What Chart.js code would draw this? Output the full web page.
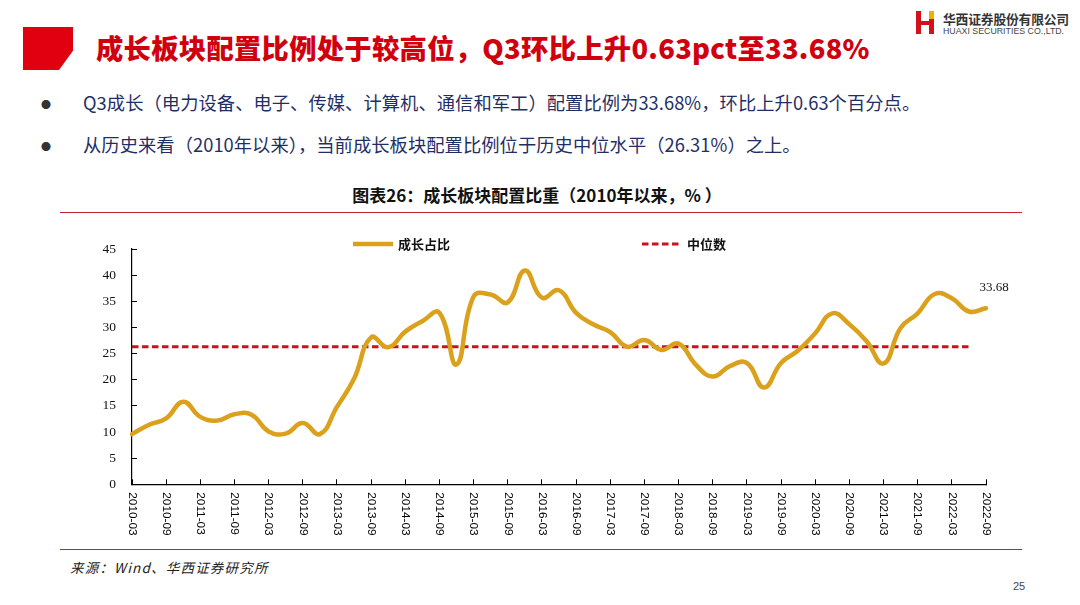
<!DOCTYPE html>
<html>
<head>
<meta charset="utf-8">
<script src="https://cdn.jsdelivr.net/npm/chart.js@4.4.1/dist/chart.umd.min.js"></script>
<style>
  html, body { margin:0; padding:0; background:#fff; }
  body { width:1080px; height:605px; position:relative; overflow:hidden; font-family:"Noto Sans CJK SC", "Noto Sans", sans-serif; }
  .corner { position:absolute; left:23px; top:27px; width:50px; height:43px; background:#e0000f;
            clip-path: polygon(0 0, 100% 0, 100% 55%, 72% 100%, 0 100%); }
  .title { position:absolute; left:96px; top:28px; font-size:27.3px; font-weight:900; color:#d0000e; white-space:nowrap; letter-spacing:0.3px; line-height:38px; }
  .logoH { position:absolute; left:916px; top:11px; width:19px; height:23px; }
  .logoH .b1 { position:absolute; left:0; top:0; width:5px; height:23px; background:#d4101c; }
  .logoH .b2 { position:absolute; left:13px; top:0; width:5px; height:23px; background:#d4101c; }
  .logoH .b3 { position:absolute; left:4px; top:10px; width:10px; height:4px; background:#d4101c; }
  .logoH .b4 { position:absolute; left:13px; top:0; width:5px; height:8px; background:#f0b000; }
  .logo1 { position:absolute; left:943px; top:9px; font-size:12.8px; font-weight:700; color:#333; white-space:nowrap; font-family:"Noto Sans CJK SC"; letter-spacing:-0.2px; }
  .logo2 { position:absolute; left:943px; top:26px; font-size:8.8px; color:#444; white-space:nowrap; font-family:"Liberation Sans Narrow","Liberation Sans",sans-serif; }
  .bullet { position:absolute; left:41px; font-size:10px; color:#333; }
  .btext { position:absolute; left:83px; font-size:18.3px; color:#1f2f66; white-space:nowrap; letter-spacing:0.05px; }
  .ctitle { position:absolute; left:0; width:1074px; text-align:center; top:182px; font-size:17px; font-weight:700; color:#111; white-space:nowrap; }
  .rule { position:absolute; left:60px; width:962px; height:1.5px; background:#c8202a; }
  .source { position:absolute; left:70px; top:557px; font-size:13.5px; font-style:italic; color:#222; white-space:nowrap; letter-spacing:1.2px; }
  .page { position:absolute; left:1013px; top:580px; font-size:11px; color:#444; font-family:"Liberation Sans",sans-serif; }
  #wrap { position:absolute; left:60px; top:215px; width:960px; height:330px; }
</style>
</head>
<body>
<div class="corner"></div>
<div class="title">成长板块配置比例处于较高位，Q3环比上升0.63pct至33.68%</div>
<div class="logoH"><div class="b1"></div><div class="b2"></div><div class="b3"></div><div class="b4"></div></div>
<div class="logo1">华西证券股份有限公司</div>
<div class="logo2">HUAXI SECURITIES CO.,LTD.</div>
<div class="bullet" style="top:97px">●</div>
<div class="btext" style="top:89px">Q3成长（电力设备、电子、传媒、计算机、通信和军工）配置比例为33.68%，环比上升0.63个百分点。</div>
<div class="bullet" style="top:139px">●</div>
<div class="btext" style="top:131px">从历史来看（2010年以来），当前成长板块配置比例位于历史中位水平（26.31%）之上。</div>
<div class="ctitle">图表26：成长板块配置比重（2010年以来，%&nbsp;）</div>
<div class="rule" style="top:211.5px"></div>
<div id="wrap"><canvas id="c"></canvas></div>
<div class="rule" style="top:548.5px"></div>
<div class="source">来源：Wind、华西证券研究所</div>
<div class="page">25</div>
<script>
const categories = [
  "2010-03","2010-06","2010-09","2010-12",
  "2011-03","2011-06","2011-09","2011-12",
  "2012-03","2012-06","2012-09","2012-12",
  "2013-03","2013-06","2013-09","2013-12",
  "2014-03","2014-06","2014-09","2014-12",
  "2015-03","2015-06","2015-09","2015-12",
  "2016-03","2016-06","2016-09","2016-12",
  "2017-03","2017-06","2017-09","2017-12",
  "2018-03","2018-06","2018-09","2018-12",
  "2019-03","2019-06","2019-09","2019-12",
  "2020-03","2020-06","2020-09","2020-12",
  "2021-03","2021-06","2021-09","2021-12",
  "2022-03","2022-06","2022-09"
];
const growthShare = [
  9.6, 11.4, 12.6, 15.8,
  12.9, 12.2, 13.4, 13.3,
  10.1, 9.7, 11.7, 9.6,
  14.8, 20.2, 28.1, 26.2,
  29.2, 31.2, 32.8, 22.9,
  35.9, 36.3, 34.8, 40.9,
  35.7, 37.1, 32.8, 30.6,
  29.1, 26.3, 27.6, 25.7,
  26.9, 22.9, 20.6, 22.6,
  23.2, 18.5, 23.2, 25.6,
  28.9, 32.7, 30.6, 27.4,
  23.1, 29.9, 32.7, 36.4,
  35.6, 33.05, 33.68
];
const medianValue = 26.31;
const medianEndLabel = "2022-06";
const yTicks = { min: 0, max: 45, step: 5 };
const seriesNames = ["成长占比", "中位数"];

const medianIdx = categories.indexOf(medianEndLabel);
const medianLine = categories.map((c, i) => (i <= medianIdx ? medianValue : null));

const GOLD = "#DBA11C";
const RED = "#CC1020";

const customPlugin = {
  id: "custom",
  afterDraw(chart) {
    const ctx = chart.ctx;
    const area = chart.chartArea;
    const xs = chart.scales.x;
    ctx.save();
    ctx.fillStyle = "#000";
    ctx.font = "11.8px 'Liberation Sans', Arial, sans-serif";
    ctx.textAlign = "left";
    ctx.textBaseline = "middle";
    categories.forEach((lab, i) => {
      if (i % 2 !== 0) return;
      const x = xs.getPixelForValue(i);
      ctx.save();
      ctx.translate(x, area.bottom + 8);
      ctx.rotate(Math.PI / 2);
      ctx.fillText(lab, 0, 0);
      ctx.restore();
    });
    ctx.restore();
    const meta = chart.getDatasetMeta(0);
    const last = meta.data[meta.data.length - 1];
    ctx.save();
    ctx.fillStyle = "#111";
    ctx.font = "13px 'Liberation Serif', 'Times New Roman', serif";
    ctx.textAlign = "center";
    ctx.textBaseline = "middle";
    ctx.fillText(growthShare[growthShare.length - 1].toFixed(2), last.x + 8, last.y - 21);
    ctx.restore();
    const items = [
      { ds: chart.data.datasets[0], x: area.left + 221 },
      { ds: chart.data.datasets[1], x: area.left + 510 }
    ];
    const ly = area.top - 5;
    items.forEach(it => {
      ctx.save();
      ctx.strokeStyle = it.ds.borderColor;
      ctx.lineWidth = it.ds.borderWidth;
      ctx.setLineDash(it.ds.borderDash || []);
      ctx.lineCap = "butt";
      ctx.beginPath();
      ctx.moveTo(it.x, ly);
      ctx.lineTo(it.x + 40, ly);
      ctx.stroke();
      ctx.setLineDash([]);
      ctx.fillStyle = "#111";
      ctx.font = "bold 13px 'Noto Sans CJK SC', sans-serif";
      ctx.textAlign = "left";
      ctx.textBaseline = "middle";
      ctx.fillText(it.ds.label, it.x + 45, ly);
      ctx.restore();
    });
  }
};

new Chart(document.getElementById("c"), {
  type: "line",
  data: {
    labels: categories,
    datasets: [
      {
        label: seriesNames[0],
        data: growthShare,
        borderColor: GOLD,
        backgroundColor: GOLD,
        borderWidth: 4.5,
        pointRadius: 0,
        pointHoverRadius: 0,
        tension: 0.45,
        borderCapStyle: "round",
        borderJoinStyle: "round",
        fill: false,
        order: 1
      },
      {
        label: seriesNames[1],
        data: medianLine,
        borderColor: RED,
        backgroundColor: RED,
        borderWidth: 2.8,
        borderDash: [6.5, 3.5],
        pointRadius: 0,
        pointHoverRadius: 0,
        tension: 0,
        fill: false,
        spanGaps: false,
        order: 2
      }
    ]
  },
  options: {
    responsive: true,
    maintainAspectRatio: false,
    animation: false,
    events: [],
    layout: { padding: { left: 0, right: 34, top: 34, bottom: 0 } },
    plugins: {
      legend: { display: false },
      tooltip: { enabled: false },
      title: { display: false }
    },
    scales: {
      x: {
        type: "category",
        offset: false,
        grid: {
          drawOnChartArea: false,
          drawTicks: true,
          tickLength: -5,
          tickColor: (c) => (c.index % 2 === 0 ? "#000" : "rgba(0,0,0,0)"),
          lineWidth: 1
        },
        border: { display: true, color: "#000", width: 1.2 },
        ticks: { display: false, autoSkip: false },
        afterFit(scale) { scale.height = 60.7; }
      },
      y: {
        min: yTicks.min,
        max: yTicks.max,
        grid: {
          drawOnChartArea: false,
          drawTicks: true,
          tickLength: -5,
          tickColor: "#000",
          lineWidth: 1
        },
        border: { display: true, color: "#000", width: 1.2 },
        ticks: {
          stepSize: yTicks.step,
          padding: 21,
          color: "#111",
          font: { family: "'Liberation Serif', 'Times New Roman', serif", size: 13.5 }
        },
        afterFit(scale) { scale.width = 72; }
      }
    }
  },
  plugins: [customPlugin]
});
</script>
</body>
</html>
